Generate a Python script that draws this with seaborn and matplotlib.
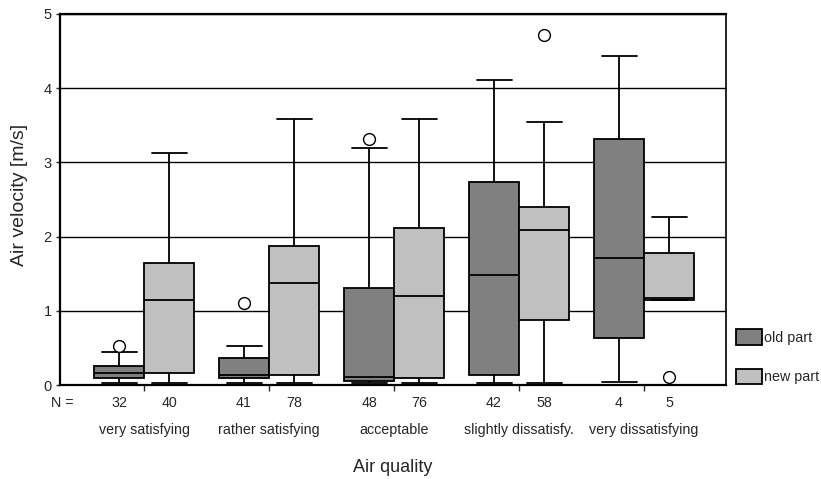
import numpy as np
import pandas as pd
import matplotlib
matplotlib.use('Agg')
import matplotlib.pyplot as plt
import seaborn as sns

categories = ['very satisfying', 'rather satisfying', 'acceptable',
              'slightly dissatisfy.', 'very dissatisfying']
parts = ['old part', 'new part']

# five-number summaries: whisker low, Q1, median, Q3, whisker high
old_lo = [0.03, 0.03, 0.03, 0.03, 0.04]
old_q1 = [0.10, 0.10, 0.05, 0.13, 0.63]
old_med = [0.16, 0.14, 0.11, 1.48, 1.71]
old_q3 = [0.25, 0.37, 1.31, 2.74, 3.32]
old_hi = [0.45, 0.52, 3.20, 4.11, 4.44]

new_lo = [0.03, 0.03, 0.03, 0.03, 1.14]
new_q1 = [0.16, 0.13, 0.10, 0.87, 1.14]
new_med = [1.14, 1.37, 1.20, 2.09, 1.17]
new_q3 = [1.64, 1.87, 2.12, 2.40, 1.78]
new_hi = [3.13, 3.59, 3.59, 3.54, 2.26]

n_old = [32, 41, 48, 42, 4]
n_new = [40, 78, 76, 58, 5]

# outliers
out_cat = ['very satisfying', 'rather satisfying', 'acceptable',
           'slightly dissatisfy.', 'very dissatisfying']
out_part = ['old part', 'old part', 'old part', 'new part', 'new part']
out_val = [0.52, 1.10, 3.32, 4.72, 0.11]

colors = {'old part': '#808080', 'new part': '#c0c0c0'}

# long table: each box gets its 5 summary values, so quartiles land exactly
rows = []
for i, cat in enumerate(categories):
    for v in [old_lo[i], old_q1[i], old_med[i], old_q3[i], old_hi[i]]:
        rows.append((cat, 'old part', v))
    for v in [new_lo[i], new_q1[i], new_med[i], new_q3[i], new_hi[i]]:
        rows.append((cat, 'new part', v))
df = pd.DataFrame(rows, columns=['quality', 'part', 'velocity'])
out_df = pd.DataFrame({'quality': out_cat, 'part': out_part, 'velocity': out_val})

sns.set_style('white')
plt.rcParams['font.family'] = ['Liberation Sans', 'DejaVu Sans']

fig = plt.figure(figsize=(8.21, 4.79), dpi=100)
ax = fig.add_axes([0.0731, 0.1962, 0.8112, 0.7746])

sns.boxplot(data=df, x='quality', y='velocity', hue='part', order=categories,
            hue_order=parts, palette=colors, whis=(0, 100), width=0.8, gap=0,
            linecolor='black', linewidth=1.3, showfliers=False, ax=ax)

# caps wider than the matplotlib default
for ln in ax.lines:
    xd = np.asarray(ln.get_xdata(), dtype=float)
    yd = np.asarray(ln.get_ydata(), dtype=float)
    if len(xd) == 2 and yd[0] == yd[1] and abs(xd[1] - xd[0] - 0.2) < 1e-6:
        c = xd.mean()
        ln.set_xdata([c - 0.14, c + 0.14])

sns.stripplot(data=out_df, x='quality', y='velocity', hue='part', order=categories,
              hue_order=parts, dodge=True, jitter=False,
              palette={'old part': 'white', 'new part': 'white'},
              edgecolor='black', linewidth=1, size=8.5, legend=False, ax=ax, zorder=5)

ax.set_ylim(0, 5)
ax.set_xlim(-0.672, 4.656)
ax.set_yticks([0, 1, 2, 3, 4, 5])
ax.yaxis.grid(True, color='black', lw=1)
ax.set_axisbelow(True)
for s in ax.spines.values():
    s.set_visible(True)
    s.set_color('black')
    s.set_linewidth(1.6)
ax.spines['right'].set_linewidth(1.2)

ax.tick_params(axis='y', length=3, width=1, pad=3, labelsize=10.5, left=True)
ax.tick_params(axis='x', length=4, width=1, pad=23, labelsize=10.3, bottom=True)
ax.set_xticks(range(len(categories)))
ax.set_xticklabels(categories)

# N counts under each box
tr = ax.get_xaxis_transform()
ax.text(-0.744, -0.0486, 'N =', transform=tr, ha='left', va='center', fontsize=10.3)
for i in range(len(categories)):
    ax.text(i - 0.2, -0.0486, str(n_old[i]), transform=tr, ha='center', va='center', fontsize=10.3)
    ax.text(i + 0.2, -0.0486, str(n_new[i]), transform=tr, ha='center', va='center', fontsize=10.3)

ax.set_xlabel('Air quality', fontsize=13)
ax.xaxis.set_label_coords(0.5, -0.2)
ax.set_ylabel('Air velocity [m/s]', fontsize=14)
ax.yaxis.set_label_coords(-0.048, 0.512)

sns.move_legend(ax, 'upper left', bbox_to_anchor=(0.8965, 0.3132),
                bbox_transform=fig.transFigure, frameon=False, title=None,
                fontsize=10.3, handlelength=1.8, handleheight=1.3,
                labelspacing=1.7, handletextpad=0.15, borderpad=0, borderaxespad=0)

fig.savefig('out.png', dpi=100)
